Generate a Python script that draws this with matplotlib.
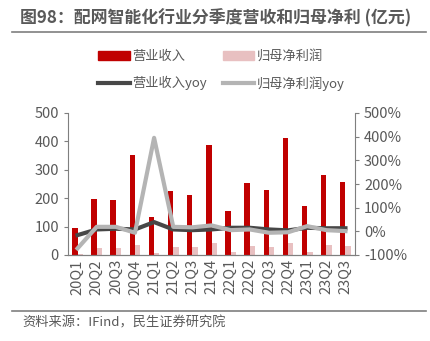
import matplotlib
matplotlib.use("Agg")
import matplotlib.pyplot as plt
import numpy as np
from matplotlib.lines import Line2D
from matplotlib.patches import Patch

plt.rcParams['font.family'] = ['Noto Sans CJK SC', 'DejaVu Sans']

quarters = ["20Q1", "20Q2", "20Q3", "20Q4", "21Q1", "21Q2", "21Q3", "21Q4",
            "22Q1", "22Q2", "22Q3", "22Q4", "23Q1", "23Q2", "23Q3"]
revenue = [95, 196, 193, 352, 134, 224, 210, 386, 156, 253, 230, 413, 171, 280, 258]
net_profit = [2, 25, 25, 35, 8, 29, 29, 44, 10, 33, 29, 43, 12, 34, 30]
revenue_yoy = [-16, 8, 11, 8, 39, 8, 5, 8, 15, 15, 8, 4, 15, 13, 13]
profit_yoy = [-72, 19, 19, -6, 395, 19, 17, 25, 5, 8, -6, -4, 22, 5, 1]

red = "#C00000"
pink = "#E8C0C1"
dark = "#474747"
light = "#B4B4B4"
txt = "#595959"
spine_c = "#7F7F7F"

fig = plt.figure(figsize=(4.31, 3.41), dpi=100)
ax = fig.add_axes([68/431, 1-255/341, (355-68)/431, (255-113)/341])
ax2 = ax.twinx()

x = np.arange(len(quarters))
w = 0.28
ax.bar(x - w/2, revenue, w, color=red, zorder=2)
ax.bar(x + w/2, net_profit, w, color=pink, zorder=2)
ax.set_xlim(-0.5, len(quarters) - 0.5)
ax.set_ylim(0, 500)
ax.set_yticks(range(0, 501, 100))
ax.set_xticks(x)
ax.set_xticklabels(quarters, rotation=90)

ax2.plot(x, revenue_yoy, color=dark, lw=3, zorder=3)
ax2.plot(x, profit_yoy, color=light, lw=3, zorder=4)
ax2.set_ylim(-100, 500)
ax2.set_yticks(range(-100, 501, 100))
ax2.set_yticklabels([f"{v}%" for v in range(-100, 501, 100)])

for a in (ax, ax2):
    a.spines['top'].set_visible(False)
    for s in ('left', 'right', 'bottom'):
        a.spines[s].set_color(spine_c)
    a.tick_params(colors=spine_c, labelcolor=txt, labelsize=10.5, length=3)
ax.tick_params(axis='x', length=0, pad=3)
ax.spines['right'].set_visible(False)
ax2.spines['left'].set_visible(False)

# title and rules
fig.text(0.5, 1-18/341, "图98：配网智能化行业分季度营收和归母净利 (亿元)",
         ha='center', va='center', fontsize=12.2, fontweight='bold', color=txt)
fig.add_artist(Line2D([12/431, 426/431], [1-32/341, 1-32/341], color=spine_c, lw=1.2))
fig.add_artist(Line2D([12/431, 426/431], [1-311/341, 1-311/341], color=spine_c, lw=1.2))
fig.text(22/431, 1-323/341, "资料来源：IFind，民生证券研究院", ha='left', va='center',
         fontsize=9.5, color=txt)

handles = [Patch(color=red), Line2D([], [], color=dark, lw=3),
           Patch(color=pink), Line2D([], [], color=light, lw=3)]
labels = ["营业收入", "营业收入yoy", "归母净利润", "归母净利润yoy"]
fig.legend(handles, labels, ncol=2, loc='center', bbox_to_anchor=(0.514, 1-70.5/341),
           frameon=False, fontsize=9.5, labelcolor=txt, handlelength=2.4,
           handleheight=0.6, handletextpad=0.2, columnspacing=1.2, labelspacing=1.0)

fig.savefig("out.png", dpi=100)
